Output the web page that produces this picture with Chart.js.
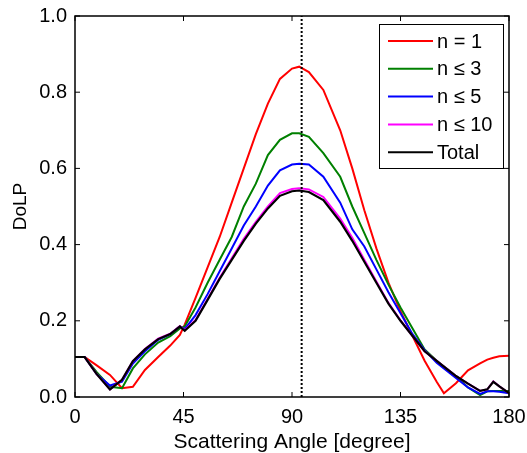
<!DOCTYPE html>
<html>
<head>
<meta charset="utf-8">
<script src="https://cdn.jsdelivr.net/npm/chart.js@4/dist/chart.umd.min.js"></script>
<style>
  html, body { margin: 0; padding: 0; background: #fff; }
  #wrap { width: 527px; height: 453px; }
</style>
</head>
<body>
<div id="wrap"><canvas id="dolp"></canvas></div>
<script>
// scattering angles (degrees) shared by all series
const angles = [0, 4, 9, 14.5, 19.5, 24, 29, 34.5, 39.5, 43.5, 45.5, 50, 55, 60, 65, 70, 75, 80, 85, 90,
  93, 97, 103, 110, 115, 120, 125, 130, 135, 140, 145, 150, 153, 158, 163, 168, 171, 173.5, 176, 180];

const n1 = [0.105, 0.105, 0.083, 0.058, 0.023, 0.027, 0.071, 0.105, 0.135, 0.163, 0.19, 0.26, 0.34, 0.42, 0.51, 0.60, 0.69, 0.77, 0.835, 0.862,
  0.867, 0.853, 0.806, 0.70, 0.60, 0.49, 0.39, 0.30, 0.225, 0.16, 0.095, 0.04, 0.01, 0.036, 0.07, 0.088, 0.098, 0.103, 0.107, 0.108];
const n3 = [0.105, 0.105, 0.065, 0.027, 0.023, 0.075, 0.112, 0.143, 0.16, 0.18, 0.185, 0.235, 0.30, 0.36, 0.42, 0.50, 0.56, 0.635, 0.675, 0.692,
  0.692, 0.683, 0.64, 0.578, 0.50, 0.43, 0.36, 0.295, 0.235, 0.18, 0.125, 0.095, 0.08, 0.055, 0.025, 0.005, 0.015, 0.016, 0.016, 0.016];
const n5 = [0.105, 0.105, 0.06, 0.03, 0.04, 0.088, 0.12, 0.15, 0.165, 0.185, 0.178, 0.215, 0.27, 0.33, 0.39, 0.45, 0.50, 0.555, 0.595, 0.61,
  0.612, 0.61, 0.578, 0.51, 0.44, 0.395, 0.335, 0.275, 0.22, 0.165, 0.123, 0.09, 0.075, 0.05, 0.025, 0.008, 0.015, 0.015, 0.014, 0.01];
const n10 = [0.105, 0.105, 0.06, 0.02, 0.045, 0.094, 0.126, 0.153, 0.166, 0.186, 0.175, 0.202, 0.257, 0.313, 0.364, 0.415, 0.46, 0.50, 0.535, 0.546,
  0.548, 0.545, 0.525, 0.468, 0.418, 0.36, 0.303, 0.247, 0.201, 0.16, 0.12, 0.095, 0.08, 0.055, 0.035, 0.016, 0.02, 0.041, 0.028, 0.01];
const total = [0.105, 0.105, 0.06, 0.02, 0.045, 0.094, 0.125, 0.152, 0.165, 0.185, 0.174, 0.20, 0.255, 0.31, 0.36, 0.41, 0.455, 0.495, 0.528, 0.54,
  0.542, 0.538, 0.517, 0.46, 0.41, 0.355, 0.30, 0.245, 0.20, 0.16, 0.12, 0.095, 0.08, 0.055, 0.035, 0.016, 0.02, 0.04, 0.028, 0.01];

const markerAngle = 94;
const xTicks = [0, 45, 90, 135, 180];
const yTicks = [0, 0.2, 0.4, 0.6, 0.8, 1.0];

const FONT = "'Liberation Sans', Arial, sans-serif";

const pts = (vals) => angles.map((a, i) => ({ x: a, y: vals[i] }));

// legend order as in the figure
const series = [
  { label: 'n = 1', data: n1, color: '#ff0000' },
  { label: 'n \u2264 3', data: n3, color: '#008000' },
  { label: 'n \u2264 5', data: n5, color: '#0000ff' },
  { label: 'n \u2264 10', data: n10, color: '#ff00ff' },
  { label: 'Total', data: total, color: '#000000' },
];

// first dataset is painted on top in Chart.js, so reverse the stack
const datasets = [
  {
    label: '',
    data: [{ x: markerAngle, y: 0 }, { x: markerAngle, y: 1 }],
    borderColor: '#000',
    borderWidth: 2,
    borderDash: [2, 2],
    pointRadius: 0,
  },
  ...series.slice().reverse().map(s => ({
    label: s.label,
    data: pts(s.data),
    borderColor: s.color,
    borderWidth: s.label === 'Total' ? 2.2 : 2,
    pointRadius: 0,
    tension: 0,
  })),
];

const framePlugin = {
  id: 'frame',
  afterDraw(chart) {
    const { ctx, chartArea: a, scales: { x, y } } = chart;
    ctx.save();
    ctx.strokeStyle = '#000';
    ctx.lineWidth = 1.5;
    ctx.strokeRect(a.left, a.top, a.right - a.left, a.bottom - a.top);

    // matlab style inward ticks
    ctx.lineWidth = 1;
    ctx.beginPath();
    xTicks.forEach(v => {
      const px = x.getPixelForValue(v);
      ctx.moveTo(px, a.bottom); ctx.lineTo(px, a.bottom - 5);
      ctx.moveTo(px, a.top); ctx.lineTo(px, a.top + 5);
    });
    yTicks.forEach(v => {
      const py = y.getPixelForValue(v);
      ctx.moveTo(a.left, py); ctx.lineTo(a.left + 5, py);
      ctx.moveTo(a.right, py); ctx.lineTo(a.right - 5, py);
    });
    ctx.stroke();

    // boxed legend
    const bx = a.right - 130, by = a.top + 8, bw = 124, bh = 144;
    ctx.fillStyle = '#fff';
    ctx.fillRect(bx, by, bw, bh);
    ctx.lineWidth = 1;
    ctx.strokeStyle = '#000';
    ctx.strokeRect(bx + 0.5, by + 0.5, bw, bh);
    ctx.font = '20px ' + FONT;
    ctx.textBaseline = 'middle';
    series.forEach((s, i) => {
      const ry = by + 17 + i * 27.8;
      ctx.strokeStyle = s.color;
      ctx.lineWidth = 2;
      ctx.beginPath();
      ctx.moveTo(bx + 9, ry);
      ctx.lineTo(bx + 54, ry);
      ctx.stroke();
      ctx.fillStyle = '#000';
      ctx.fillText(s.label, bx + 58, ry + 1);
    });
    ctx.restore();
  }
};

new Chart(document.getElementById('dolp'), {
  type: 'line',
  data: { datasets },
  options: {
    responsive: true,
    maintainAspectRatio: false,
    animation: false,
    layout: { padding: { top: 16, right: 18, left: 0, bottom: 0 } },
    plugins: {
      legend: { display: false },
      tooltip: { enabled: false },
    },
    scales: {
      x: {
        type: 'linear',
        min: 0,
        max: 180,
        afterFit: (s) => { s.height = 56; s.paddingLeft = 0; s.paddingRight = 0; },
        afterBuildTicks: (s) => { s.ticks = xTicks.map(v => ({ value: v })); },
        grid: { display: false, drawTicks: false },
        border: { display: false },
        ticks: { color: '#000', padding: 8, font: { size: 20, family: FONT } },
        title: {
          display: true,
          text: 'Scattering Angle [degree]',
          color: '#000',
          font: { size: 21, family: FONT },
          padding: { top: 0, bottom: -2 },
        },
      },
      y: {
        min: 0,
        max: 1,
        afterFit: (s) => { s.width = 75; s.paddingTop = 0; s.paddingBottom = 0; },
        afterBuildTicks: (s) => { s.ticks = yTicks.map(v => ({ value: v })); },
        grid: { display: false, drawTicks: false },
        border: { display: false },
        ticks: {
          color: '#000',
          padding: 8,
          font: { size: 20, family: FONT },
          callback: (v) => v.toFixed(1),
        },
        title: {
          display: true,
          text: 'DoLP',
          color: '#000',
          font: { size: 19, family: FONT },
          padding: { top: 9, bottom: 0 },
        },
      },
    },
  },
  plugins: [framePlugin],
});
</script>
</body>
</html>
